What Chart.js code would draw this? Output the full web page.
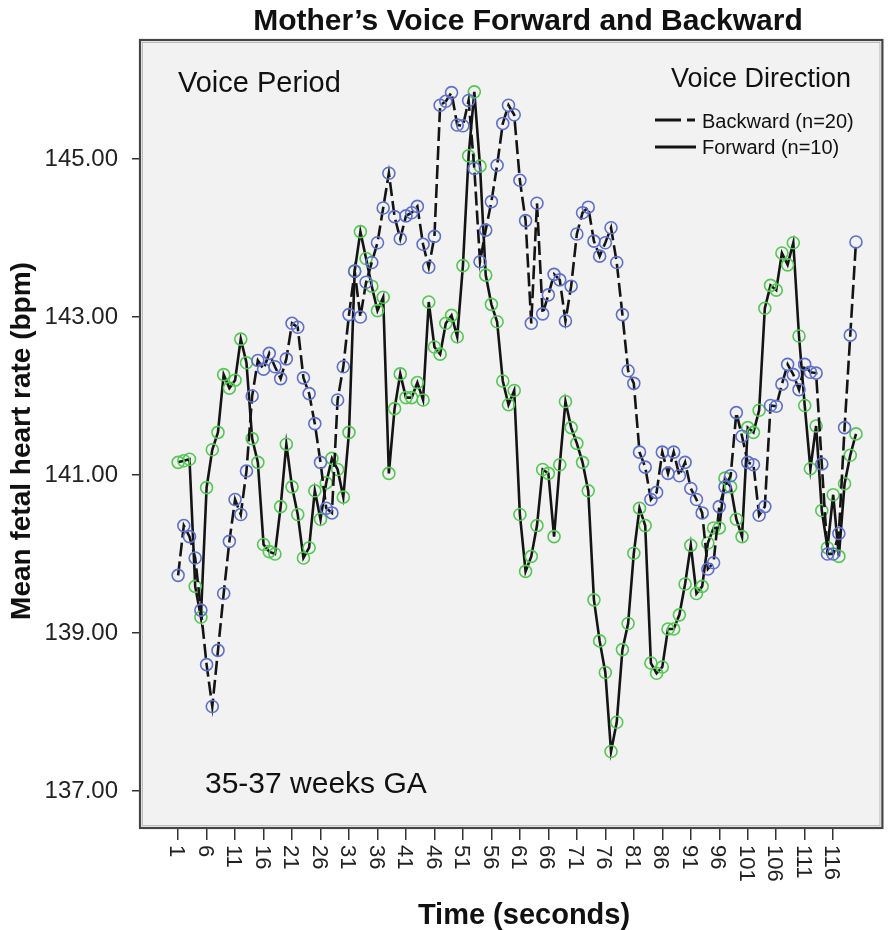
<!DOCTYPE html>
<html>
<head>
<meta charset="utf-8">
<script src="https://cdn.jsdelivr.net/npm/chart.js@4.4.1/dist/chart.umd.min.js"></script>
<style>
  html, body { margin: 0; padding: 0; background: #ffffff; }
  canvas { display: block; }
</style>
</head>
<body>
<canvas id="chart" width="890" height="930"></canvas>
<script>
// ---------------- DATA ----------------
const seconds = [
  1,2,3,4,5,6,7,8,9,10,11,12,13,14,15,16,17,18,19,20,
  21,22,23,24,25,26,27,28,29,30,31,32,33,34,35,36,37,38,39,40,
  41,42,43,44,45,46,47,48,49,50,51,52,53,54,55,56,57,58,59,60,
  61,62,63,64,65,66,67,68,69,70,71,72,73,74,75,76,77,78,79,80,
  81,82,83,84,85,86,87,88,89,90,91,92,93,94,95,96,97,98,99,100,
  101,102,103,104,105,106,107,108,109,110,111,112,113,114,115,116,117,118,119,120
];

const xTickLabels = [1,6,11,16,21,26,31,36,41,46,51,56,61,66,71,76,81,86,91,96,101,106,111,116];
const yTickLabels = [137,139,141,143,145];

const backward = [
  139.73,140.36,140.22,139.95,139.29,138.60,138.07,138.78,139.50,140.16,
  140.69,140.50,141.05,142.00,142.45,142.34,142.54,142.37,142.22,142.47,
  142.92,142.87,142.23,142.03,141.65,141.16,140.58,140.52,141.95,142.37,
  143.03,143.58,143.00,143.44,143.69,143.94,144.38,144.82,144.27,143.99,
  144.28,144.32,144.40,143.92,143.63,144.02,145.68,145.73,145.84,145.43,
  145.42,145.74,144.88,143.70,144.10,144.46,144.92,145.45,145.68,145.56,
  144.73,144.22,142.92,144.44,143.04,143.28,143.54,143.47,142.95,143.39,
  144.05,144.32,144.39,143.96,143.77,143.94,144.13,143.69,143.03,142.32,
  142.16,141.29,141.10,140.69,140.78,141.29,141.02,141.29,140.99,141.16,
  140.83,140.69,140.52,139.81,139.89,140.60,140.85,140.99,141.79,141.49,
  141.16,141.13,140.49,140.60,141.88,141.87,142.15,142.40,142.27,142.08,
  142.40,142.30,142.29,141.14,140.00,140.00,140.26,141.60,142.77,143.95
];

const forward = [
  141.16,141.18,141.20,139.59,139.20,140.84,141.32,141.54,142.27,142.10,
  142.20,142.72,142.42,141.46,141.16,140.12,140.03,140.00,140.60,141.39,
  140.85,140.50,139.95,140.08,140.80,140.44,140.90,141.21,141.07,140.72,
  141.54,143.58,144.08,143.74,143.39,143.08,143.25,141.02,141.84,142.28,
  141.98,141.98,142.17,141.95,143.19,142.62,142.53,142.92,143.02,142.75,
  143.65,145.04,145.85,144.91,143.53,143.16,142.94,142.19,141.89,142.07,
  140.50,139.78,139.97,140.36,141.07,141.02,140.22,141.13,141.93,141.60,
  141.40,141.16,140.80,139.42,138.90,138.50,137.50,137.87,138.79,139.12,
  140.01,140.58,140.36,138.62,138.49,138.57,139.05,139.05,139.23,139.62,
  140.11,139.50,139.59,140.14,140.33,140.33,140.96,140.85,140.44,140.22,
  141.60,141.54,141.82,143.11,143.40,143.34,143.81,143.66,143.94,142.76,
  141.88,141.08,141.62,140.55,140.08,140.75,139.97,140.89,141.25,141.52
];

const seriesNames = ['Backward (n=20)', 'Forward (n=10)'];
const chartTitle = 'Mother\u2019s Voice Forward and Backward';
const xTitle = 'Time (seconds)';
const yTitle = 'Mean fetal heart rate (bpm)';
const noteVoicePeriod = 'Voice Period';
const noteVoiceDirection = 'Voice Direction';
const noteAge = '35-37 weeks GA';

// ---------------- STYLE ----------------
const FONT = '"Liberation Sans", Arial, Helvetica, sans-serif';
const BLUE = '#5f70cc';
const GREEN = '#52c952';
const LINE = '#141414';
const DASH = [14, 5];

function pts(values) {
  return seconds.map((s, i) => ({ x: s, y: values[i] }));
}

const decor = {
  id: 'decor',
  beforeDraw(chart) {
    const { ctx, chartArea: a } = chart;
    ctx.save();
    ctx.fillStyle = '#f2f2f2';
    ctx.fillRect(a.left, a.top, a.right - a.left, a.bottom - a.top);
    ctx.restore();
  },
  afterDraw(chart) {
    const { ctx, chartArea: a, scales } = chart;
    ctx.save();
    // frame with a soft inner shadow
    ctx.strokeStyle = '#bdbdbd';
    ctx.lineWidth = 1;
    ctx.strokeRect(a.left + 2.5, a.top + 2.5, a.right - a.left - 5, a.bottom - a.top - 5);
    ctx.strokeStyle = '#454545';
    ctx.lineWidth = 2.2;
    ctx.strokeRect(a.left, a.top, a.right - a.left, a.bottom - a.top);

    ctx.fillStyle = '#111';
    // title
    ctx.font = 'bold 30px ' + FONT;
    ctx.textAlign = 'center';
    ctx.textBaseline = 'alphabetic';
    ctx.fillText(chartTitle, 528, 30);

    // x title
    ctx.font = 'bold 29px ' + FONT;
    ctx.fillText(xTitle, 524, 924);

    // y title
    ctx.save();
    ctx.translate(22, 441);
    ctx.rotate(-Math.PI / 2);
    ctx.font = 'bold 28px ' + FONT;
    ctx.textBaseline = 'middle';
    ctx.fillText(yTitle, 0, 0);
    ctx.restore();

    // x tick labels, rotated clockwise (read top to bottom)
    const xs = scales.x;
    const fs = 22;
    ctx.font = fs + 'px ' + FONT;
    ctx.textAlign = 'left';
    ctx.textBaseline = 'alphabetic';
    ctx.fillStyle = '#222';
    xTickLabels.forEach(v => {
      const px = xs.getPixelForValue(v);
      ctx.save();
      ctx.translate(px, a.bottom + 17);
      ctx.rotate(Math.PI / 2);
      ctx.fillText(String(v), 0, 0.358 * fs);
      ctx.restore();
    });

    // notes
    ctx.fillStyle = '#111';
    ctx.textAlign = 'left';
    ctx.font = '29px ' + FONT;
    ctx.fillText(noteVoicePeriod, 178, 92);
    ctx.font = '27px ' + FONT;
    ctx.fillText(noteVoiceDirection, 671, 87);
    ctx.font = '30px ' + FONT;
    ctx.fillText(noteAge, 205, 793);

    // legend
    ctx.font = '20px ' + FONT;
    ctx.fillText(seriesNames[0], 702, 128);
    ctx.fillText(seriesNames[1], 702, 154);
    ctx.strokeStyle = LINE;
    ctx.lineWidth = 3;
    ctx.setLineDash([26, 6, 8, 100]);
    ctx.beginPath(); ctx.moveTo(655, 120); ctx.lineTo(696, 120); ctx.stroke();
    ctx.setLineDash([]);
    ctx.beginPath(); ctx.moveTo(655, 147); ctx.lineTo(696, 147); ctx.stroke();
    ctx.restore();
  }
};

new Chart(document.getElementById('chart'), {
  type: 'line',
  data: {
    datasets: [
      {
        label: seriesNames[0],
        data: pts(backward),
        borderColor: LINE,
        borderWidth: 2.6,
        borderDash: DASH,
        pointRadius: 6,
        pointBorderWidth: 1.6,
        pointBorderColor: BLUE,
        pointBackgroundColor: 'rgba(0,0,0,0)',
        tension: 0,
        fill: false
      },
      {
        label: seriesNames[1],
        data: pts(forward),
        borderColor: LINE,
        borderWidth: 2.6,
        pointRadius: 6,
        pointBorderWidth: 1.6,
        pointBorderColor: GREEN,
        pointBackgroundColor: 'rgba(0,0,0,0)',
        tension: 0,
        fill: false
      }
    ]
  },
  options: {
    responsive: false,
    animation: false,
    devicePixelRatio: 1,
    layout: { padding: { left: 0, top: 40, right: 4, bottom: 0 } },
    plugins: { legend: { display: false }, tooltip: { enabled: false }, title: { display: false } },
    scales: {
      x: {
        type: 'linear',
        min: -5.69,
        max: 124.64,
        afterBuildTicks: s => { s.ticks = xTickLabels.map(v => ({ value: v })); },
        afterFit: s => { s.height = 102; },
        ticks: { display: false },
        border: { display: false },
        grid: { drawOnChartArea: false, drawTicks: true, tickLength: 12, color: '#333', lineWidth: 1.5 }
      },
      y: {
        type: 'linear',
        min: 136.532,
        max: 146.506,
        afterBuildTicks: s => { s.ticks = yTickLabels.map(v => ({ value: v })); },
        afterFit: s => { s.width = 140; },
        ticks: {
          callback: v => Number(v).toFixed(2),
          font: { family: FONT, size: 24 },
          color: '#222',
          padding: 14
        },
        border: { display: false },
        grid: { drawOnChartArea: false, drawTicks: true, tickLength: 8, color: '#333', lineWidth: 1.5 }
      }
    }
  },
  plugins: [decor]
});
</script>
</body>
</html>
